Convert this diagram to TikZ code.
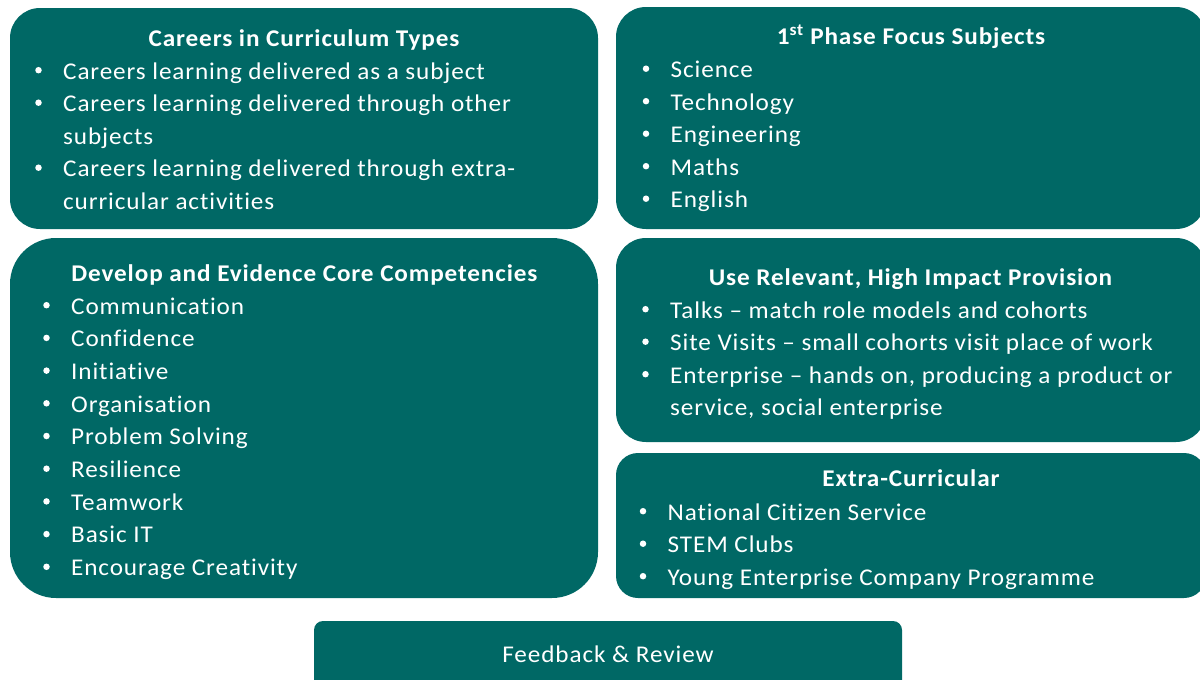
\documentclass[tikz,border=0pt]{standalone}
\usepackage{fontspec}
\setmainfont{Carlito}[FakeStretch=1.05, LetterSpace=3.7, Ligatures={NoCommon,NoContextual}]
\definecolor{teal}{RGB}{0,104,101}
\tikzset{
  box/.style={fill=teal, draw=none, inner sep=0pt},
  txt/.style={text=white, inner sep=0pt, font=\fontsize{24}{29}\selectfont},
  head/.style={txt, anchor=base, font=\fontsize{24}{29}\selectfont\bfseries},
  itm/.style={txt, anchor=base west},
  dot/.style={circle, fill=white, draw=none, inner sep=0pt, minimum size=6.5pt},
}
\newcommand\bitem[4]{%
  \node[dot] (#1b) at (#2,#3-8.8) {};
  \node[itm] (#1) at (#2+24.5,#3) {#4};}
\newcommand\cont[4]{\node[itm] (#1) at (#2,#3) {#4};}
\begin{document}
\begin{tikzpicture}[x=1pt,y=-1pt]
\useasboundingbox (0,0) rectangle (1200,680);
\clip (0,0) rectangle (1200,680);
% boxes
\node[box, rounded corners=30pt, minimum width=588pt, minimum height=221pt] (tl) at (304,118.5) {};
\node[box, rounded corners=46pt, minimum width=588pt, minimum height=360pt] (ml) at (304,418) {};
\node[box, rounded corners=30pt, minimum width=590pt, minimum height=222pt] (tr) at (911,118) {};
\node[box, rounded corners=30pt, minimum width=590pt, minimum height=204pt] (mr) at (911,340) {};
\node[box, rounded corners=22pt, minimum width=590pt, minimum height=145pt] (br) at (911,525.5) {};
\node[box, rounded corners=9pt, minimum width=588pt, minimum height=80pt] (fb) at (608,661) {};
% top-left
\node[head] (tlh) at (304,46) {Careers in Curriculum Types};
\bitem{tl1}{38.5}{79}{Careers learning delivered as a subject}
\bitem{tl2}{38.5}{111.5}{Careers learning delivered through other}
\cont{tl2c}{63}{144}{subjects}
\bitem{tl3}{38.5}{176.5}{Careers learning delivered through extra-}
\cont{tl3c}{63}{209}{curricular activities}
% top-right
\node[head] (trh) at (911,45) {1\textsuperscript{st} Phase Focus Subjects};
\bitem{tr1}{646}{77.5}{Science}
\bitem{tr2}{646}{110}{Technology}
\bitem{tr3}{646}{142.5}{Engineering}
\bitem{tr4}{646}{175}{Maths}
\bitem{tr5}{646}{207.5}{English}
% middle-left
\node[head] (mlh) at (304.5,281) {Develop and Evidence Core Competencies};
\bitem{ml1}{46.5}{314}{Communication}
\bitem{ml2}{46.5}{346.7}{Confidence}
\bitem{ml3}{46.5}{379.4}{Initiative}
\bitem{ml4}{46.5}{412.1}{Organisation}
\bitem{ml5}{46.5}{444.8}{Problem Solving}
\bitem{ml6}{46.5}{477.5}{Resilience}
\bitem{ml7}{46.5}{510.2}{Teamwork}
\bitem{ml8}{46.5}{542.9}{Basic IT}
\bitem{ml9}{46.5}{575.6}{Encourage Creativity}
% middle-right
\node[head] (mrh) at (910.5,285) {Use Relevant, High Impact Provision};
\bitem{mr1}{645.5}{318}{Talks -- match role models and cohorts}
\bitem{mr2}{645.5}{350.5}{Site Visits -- small cohorts visit place of work}
\bitem{mr3}{645.5}{383}{Enterprise -- hands on, producing a product or}
\cont{mr3c}{670}{415.5}{service, social enterprise}
% bottom-right
\node[head] (brh) at (911,486) {Extra-Curricular};
\bitem{br1}{643}{520}{National Citizen Service}
\bitem{br2}{643}{552.5}{STEM Clubs}
\bitem{br3}{643}{585}{Young Enterprise Company Programme}
% feedback
\node[txt, anchor=base] (fbt) at (608,662) {Feedback \& Review};
\end{tikzpicture}
\end{document}
